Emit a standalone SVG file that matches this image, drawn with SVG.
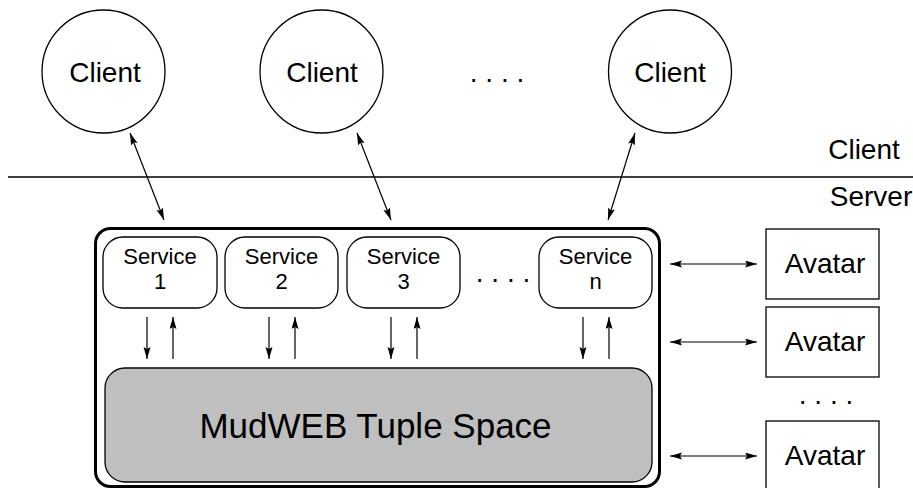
<svg xmlns="http://www.w3.org/2000/svg" width="913" height="488" viewBox="0 0 913 488">
<style>
text{font-family:"Liberation Sans",Arial,sans-serif;fill:#000;text-anchor:middle}
.big{font-size:28px}
.svc{font-size:22px}
.ts{font-size:35px}
.sh{fill:#fff;stroke:#000;stroke-width:1.3}
.ln{stroke:#000;stroke-width:1.3;fill:none}
.ar{stroke:#000;stroke-width:1.2;fill:none;marker-end:url(#ah)}
.ar2{stroke:#000;stroke-width:1.2;fill:none;marker-end:url(#ah);marker-start:url(#ah)}
</style>
<defs>
<marker id="ah" markerUnits="userSpaceOnUse" markerWidth="13" markerHeight="8" refX="12" refY="3.5" orient="auto-start-reverse">
<path d="M0,0 L12,3.5 L0,7 L2,3.5 z" fill="#000"/>
</marker>
</defs>
<rect width="913" height="488" fill="#fff"/>
<g id="client1"><circle class="sh" cx="103.5" cy="71.5" r="61.5"/><text class="big" x="105" y="82">Client</text></g>
<g id="client2"><circle class="sh" cx="321.5" cy="71.5" r="61.5"/><text class="big" x="322" y="82">Client</text></g>
<g id="client3"><circle class="sh" cx="670" cy="71.5" r="61.5"/><text class="big" x="670" y="82">Client</text></g>
<text class="big" x="497" y="82">. . . .</text>
<line class="ln" x1="8" y1="177" x2="913" y2="177"/>
<text class="big" x="864" y="159">Client</text>
<text class="big" x="871" y="206">Server</text>
<g id="server"><rect x="95.5" y="228.5" width="564" height="258" rx="15" fill="#fff" stroke="#000" stroke-width="3"/></g>
<g id="service1"><rect class="sh" x="103" y="237" width="114" height="71" rx="20"/><text class="svc" x="160" y="264">Service</text><text class="svc" x="160" y="289">1</text></g>
<g id="service2"><rect class="sh" x="225" y="237" width="113" height="71" rx="20"/><text class="svc" x="281.5" y="264">Service</text><text class="svc" x="281.5" y="289">2</text></g>
<g id="service3"><rect class="sh" x="347" y="237" width="113" height="71" rx="20"/><text class="svc" x="403.5" y="264">Service</text><text class="svc" x="403.5" y="289">3</text></g>
<text class="big" x="503" y="282">. . . .</text>
<g id="servicen"><rect class="sh" x="539" y="237" width="113" height="71" rx="20"/><text class="svc" x="595.5" y="264">Service</text><text class="svc" x="595.5" y="289">n</text></g>
<g id="tuplespace"><rect x="105" y="368" width="547" height="114" rx="20" fill="#bfbfbf" stroke="#000" stroke-width="1.3"/><text class="ts" x="375.5" y="438">MudWEB Tuple Space</text></g>
<g id="avatar1"><rect class="sh" x="766" y="229" width="113" height="70"/><text class="big" x="825" y="273">Avatar</text></g>
<g id="avatar2"><rect class="sh" x="766" y="307" width="113" height="70"/><text class="big" x="825" y="351">Avatar</text></g>
<text class="big" x="826" y="404">. . . .</text>
<g id="avatar3"><rect class="sh" x="766" y="421" width="113" height="70"/><text class="big" x="825" y="465">Avatar</text></g>
<g id="connectors">
<line class="ar2" x1="130" y1="133" x2="164" y2="220"/>
<line class="ar2" x1="357" y1="133" x2="391" y2="220"/>
<line class="ar2" x1="635" y1="133" x2="608" y2="220"/>
<line class="ar" x1="147" y1="317" x2="147" y2="359"/>
<line class="ar" x1="173" y1="359" x2="173" y2="317"/>
<line class="ar" x1="269" y1="317" x2="269" y2="359"/>
<line class="ar" x1="295" y1="359" x2="295" y2="317"/>
<line class="ar" x1="391" y1="317" x2="391" y2="359"/>
<line class="ar" x1="417" y1="359" x2="417" y2="317"/>
<line class="ar" x1="583" y1="317" x2="583" y2="359"/>
<line class="ar" x1="609" y1="359" x2="609" y2="317"/>
<line class="ar2" x1="670" y1="264" x2="757" y2="264"/>
<line class="ar2" x1="670" y1="342" x2="757" y2="342"/>
<line class="ar2" x1="670" y1="456" x2="757" y2="456"/>
</g>
</svg>
